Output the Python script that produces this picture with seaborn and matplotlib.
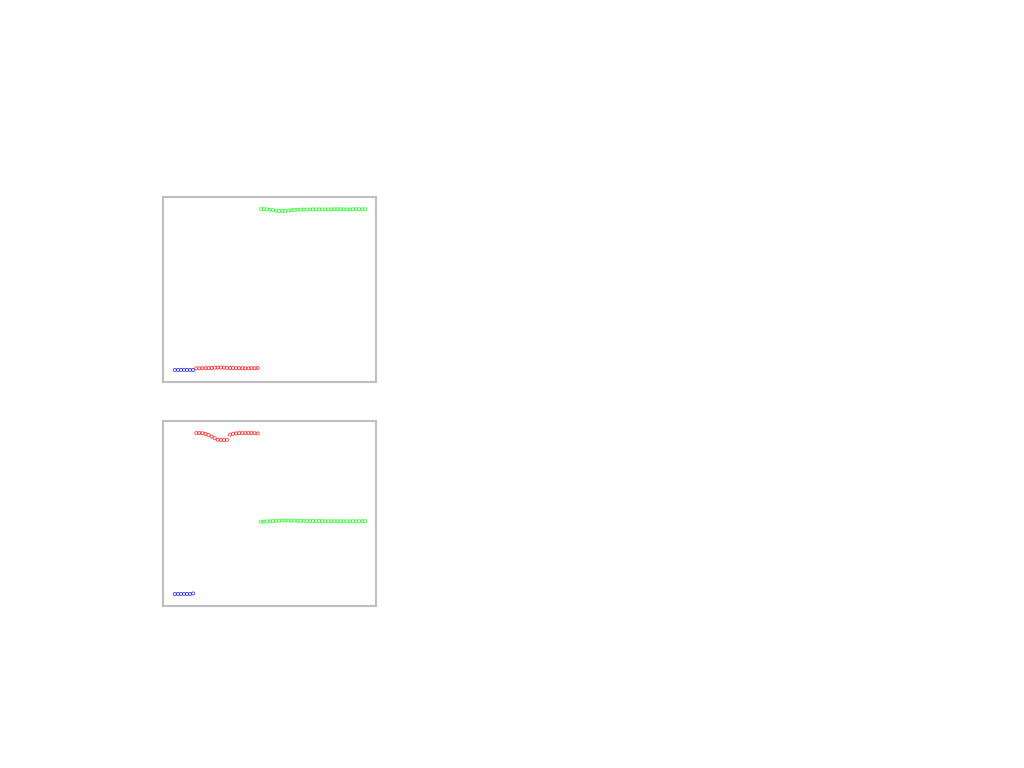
import numpy as np
import pandas as pd
import matplotlib
matplotlib.use('Agg')
import matplotlib.pyplot as plt
import seaborn as sns

# x positions of each group (sample index)
blue_idx = list(range(0, 7))
red_idx = list(range(7, 28))
green_idx = list(range(28, 63))

# upper panel
top_blue = [0, 0, 0, 0.1, 0, 0, 0]
top_red = [1.0, 1.0, 1.1, 1.1, 1.2, 1.2, 1.4, 1.5, 1.5, 1.4, 1.3, 1.2, 1.2, 1.1,
           1.1, 1.1, 1.0, 1.0, 1.1, 1.1, 1.2]
top_green = [100, 100, 99.8, 99.6, 99.3, 99.0, 98.8, 98.8, 98.9, 99.1, 99.3, 99.5,
             99.6, 99.7, 99.7, 99.7, 99.8, 99.8, 99.8, 99.8, 99.8, 99.8, 99.8, 99.8,
             99.9, 99.9, 99.9, 99.8, 99.8, 99.8, 99.8, 99.9, 99.9, 99.9, 99.9]

# lower panel
bot_blue = [0, 0, 0, 0, 0, 0, 0.3]
bot_red = [100, 100, 99.9, 99.5, 98.8, 97.8, 96.8, 95.9, 95.7, 95.7, 95.8, 99.0,
           99.6, 99.8, 100, 100, 100, 100, 100, 99.9, 99.8]
bot_green = [45.0, 45.0, 45.1, 45.2, 45.3, 45.5, 45.6, 45.7, 45.7, 45.7, 45.6, 45.6,
             45.5, 45.4, 45.4, 45.3, 45.3, 45.3, 45.3, 45.3, 45.3, 45.2, 45.2, 45.2,
             45.2, 45.2, 45.2, 45.2, 45.2, 45.2, 45.2, 45.2, 45.2, 45.3, 45.3]

sns.set_style('white')

fig = plt.figure(figsize=(10.24, 7.68), dpi=100)
ax_top = fig.add_axes([0.159, 0.5026, 0.208, 0.2409])
ax_bot = fig.add_axes([0.159, 0.2109, 0.208, 0.2409])

panels = [
    (ax_top, top_blue, top_red, top_green),
    (ax_bot, bot_blue, bot_red, bot_green),
]

for ax, b, r, g in panels:
    for idx, vals, col in [(blue_idx, b, 'blue'), (red_idx, r, 'red'), (green_idx, g, 'lime')]:
        sns.scatterplot(x=idx, y=vals, ax=ax, marker='o', s=5, alpha=0.75,
                        facecolor='none', edgecolor=col, linewidth=0.6, legend=False)
    ax.set_xlim(-3.9, 65.5)
    ax.set_ylim(-7.5, 107.5)
    ax.set_xticks([])
    ax.set_yticks([])
    ax.set_xlabel('')
    ax.set_ylabel('')
    for sp in ax.spines.values():
        sp.set_color('#bfbfbf')
        sp.set_linewidth(1.5)

fig.savefig('out.png', dpi=100)
